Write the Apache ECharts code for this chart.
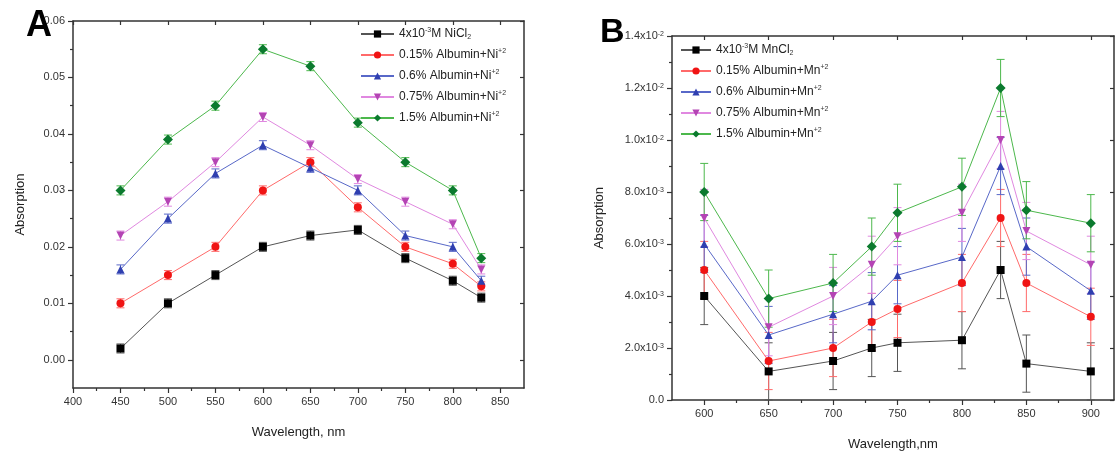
<!DOCTYPE html>
<html>
<head>
<meta charset="utf-8">
<script src="https://cdn.jsdelivr.net/npm/echarts@6/dist/echarts.min.js"></script>
<style>
  html, body { margin: 0; padding: 0; background: #fff; }
  #chart { width: 1115px; height: 456px; }
</style>
</head>
<body>
<div id="chart"></div>
<script>
// panel A: Ni
const xA = [450, 500, 550, 600, 650, 700, 750, 800, 830];
const niCl = [0.002, 0.010, 0.015, 0.020, 0.022, 0.023, 0.018, 0.014, 0.011];
const ni015 = [0.010, 0.015, 0.020, 0.030, 0.035, 0.027, 0.020, 0.017, 0.013];
const ni06 = [0.016, 0.025, 0.033, 0.038, 0.034, 0.030, 0.022, 0.020, 0.014];
const ni075 = [0.022, 0.028, 0.035, 0.043, 0.038, 0.032, 0.028, 0.024, 0.016];
const ni15 = [0.030, 0.039, 0.045, 0.055, 0.052, 0.042, 0.035, 0.030, 0.018];
const errA = [0.0008, 0.0008, 0.0008, 0.0008, 0.0008, 0.0008, 0.0008, 0.0008, 0.0008];

// panel B: Mn
const xB = [600, 650, 700, 730, 750, 800, 830, 850, 900];
const mnCl = [0.0040, 0.0011, 0.0015, 0.0020, 0.0022, 0.0023, 0.0050, 0.0014, 0.0011];
const mn015 = [0.0050, 0.0015, 0.0020, 0.0030, 0.0035, 0.0045, 0.0070, 0.0045, 0.0032];
const mn06 = [0.0060, 0.0025, 0.0033, 0.0038, 0.0048, 0.0055, 0.0090, 0.0059, 0.0042];
const mn075 = [0.0070, 0.0028, 0.0040, 0.0052, 0.0063, 0.0072, 0.0100, 0.0065, 0.0052];
const mn15 = [0.0080, 0.0039, 0.0045, 0.0059, 0.0072, 0.0082, 0.0120, 0.0073, 0.0068];
const errB = [0.0011, 0.0011, 0.0011, 0.0011, 0.0011, 0.0011, 0.0011, 0.0011, 0.0011];

// ticks
const xTicksA = [400, 450, 500, 550, 600, 650, 700, 750, 800, 850];
const xMinorA = [425, 475, 525, 575, 625, 675, 725, 775, 825];
const yTicksA = [0, 0.01, 0.02, 0.03, 0.04, 0.05, 0.06];
const yMinorA = [0.005, 0.015, 0.025, 0.035, 0.045, 0.055];
const xTicksB = [600, 650, 700, 750, 800, 850, 900];
const xMinorB = [625, 675, 725, 775, 825, 875];
const yTicksB = [0, 0.002, 0.004, 0.006, 0.008, 0.010, 0.012, 0.014];
const yMinorB = [0.001, 0.003, 0.005, 0.007, 0.009, 0.011, 0.013];

const namesA = ['4x10-3M NiCl2', '0.15% Albumin+Ni+2', '0.6% Albumin+Ni+2', '0.75% Albumin+Ni+2', '1.5% Albumin+Ni+2'];
const namesB = ['4x10-3M MnCl2', '0.15% Albumin+Mn+2', '0.6% Albumin+Mn+2', '0.75% Albumin+Mn+2', '1.5% Albumin+Mn+2'];
const richNames = {
  '4x10-3M NiCl2': '4x10{sup|-3}M NiCl{sub|2}',
  '0.15% Albumin+Ni+2': '0.15% Albumin+Ni{sup|+2}',
  '0.6% Albumin+Ni+2': '0.6% Albumin+Ni{sup|+2}',
  '0.75% Albumin+Ni+2': '0.75% Albumin+Ni{sup|+2}',
  '1.5% Albumin+Ni+2': '1.5% Albumin+Ni{sup|+2}',
  '4x10-3M MnCl2': '4x10{sup|-3}M MnCl{sub|2}',
  '0.15% Albumin+Mn+2': '0.15% Albumin+Mn{sup|+2}',
  '0.6% Albumin+Mn+2': '0.6% Albumin+Mn{sup|+2}',
  '0.75% Albumin+Mn+2': '0.75% Albumin+Mn{sup|+2}',
  '1.5% Albumin+Mn+2': '1.5% Albumin+Mn{sup|+2}'
};

const markColors = ['#000000', '#f01414', '#2f3fb0', '#b444b4', '#0b7a2e'];
const lineColors = ['#555555', '#ff6a6a', '#5868c8', '#e088e0', '#4cb84c'];
const symbols = ['rect', 'circle', 'triangle', 'triangle', 'diamond'];
const rotations = [0, 0, 0, 180, 0];

const FONT = 'Liberation Sans';
const supRich = {
  sup: { fontSize: 7, verticalAlign: 'top', lineHeight: 8, fontFamily: FONT, color: '#333' },
  sub: { fontSize: 7, verticalAlign: 'bottom', lineHeight: 8, fontFamily: FONT, color: '#333' }
};

function mainAxis(grid, pos, min, max, ticks, fmt, name, gap) {
  return {
    type: 'value', gridIndex: grid, position: pos, min: min, max: max,
    name: name, nameLocation: 'middle', nameGap: gap,
    nameTextStyle: { fontFamily: FONT, fontSize: 13, color: '#222' },
    axisLine: { show: true, onZero: false, lineStyle: { color: '#333', width: 1.5 } },
    axisTick: { show: true, inside: false, length: 5, customValues: ticks, lineStyle: { color: '#333', width: 1.2 } },
    axisLabel: { show: true, customValues: ticks, formatter: fmt, margin: 8,
      fontFamily: FONT, fontSize: 11, color: '#333', rich: supRich },
    splitLine: { show: false }
  };
}
function mirrorAxis(grid, pos, min, max, ticks) {
  return {
    type: 'value', gridIndex: grid, position: pos, min: min, max: max,
    axisLine: { show: true, onZero: false, lineStyle: { color: '#333', width: 1.5 } },
    axisTick: { show: true, inside: true, length: 4, customValues: ticks, lineStyle: { color: '#333', width: 1.2 } },
    axisLabel: { show: false },
    splitLine: { show: false }
  };
}
function minorAxis(grid, pos, min, max, ticks) {
  return {
    type: 'value', gridIndex: grid, position: pos, min: min, max: max,
    axisLine: { show: false, onZero: false },
    axisTick: { show: true, inside: false, length: 3, customValues: ticks, lineStyle: { color: '#333', width: 1.2 } },
    axisLabel: { show: false },
    splitLine: { show: false }
  };
}

const fmtA = v => v.toFixed(2);
const fmtB = v => {
  if (v === 0) return '0.0';
  if (v >= 0.0099) return (v * 100).toFixed(1) + 'x10{sup|-2}';
  return (v * 1000).toFixed(1) + 'x10{sup|-3}';
};
const fmtX = v => String(v);

function lineSeries(name, xs, ys, i, xi, yi) {
  return {
    name: name, type: 'line', xAxisIndex: xi, yAxisIndex: yi,
    data: xs.map((x, k) => [x, ys[k]]),
    symbol: symbols[i], symbolRotate: rotations[i], symbolSize: i === 4 ? 10 : 8,
    itemStyle: { color: markColors[i] },
    lineStyle: { color: lineColors[i], width: 1 },
    z: 3
  };
}
function errSeries(xs, ys, err, i, xi, yi) {
  return {
    type: 'custom', xAxisIndex: xi, yAxisIndex: yi, silent: true, z: 2,
    encode: { x: 0, y: [1, 2] },
    data: xs.map((x, k) => [x, ys[k] - err[k], ys[k] + err[k]]),
    renderItem: (params, api) => {
      const lo = api.coord([api.value(0), api.value(1)]);
      const hi = api.coord([api.value(0), api.value(2)]);
      const w = 4;
      const st = { stroke: lineColors[i], lineWidth: 1 };
      return {
        type: 'group', children: [
          { type: 'line', shape: { x1: lo[0], y1: lo[1], x2: hi[0], y2: hi[1] }, style: st },
          { type: 'line', shape: { x1: lo[0] - w, y1: lo[1], x2: lo[0] + w, y2: lo[1] }, style: st },
          { type: 'line', shape: { x1: hi[0] - w, y1: hi[1], x2: hi[0] + w, y2: hi[1] }, style: st }
        ]
      };
    }
  };
}

const seriesA = [niCl, ni015, ni06, ni075, ni15];
const seriesB = [mnCl, mn015, mn06, mn075, mn15];
const series = [];
seriesA.forEach((ys, i) => {
  series.push(errSeries(xA, ys, errA, i, 0, 0));
  series.push(lineSeries(namesA[i], xA, ys, i, 0, 0));
});
seriesB.forEach((ys, i) => {
  series.push(errSeries(xB, ys, errB, i, 3, 3));
  series.push(lineSeries(namesB[i], xB, ys, i, 3, 3));
});

function legendOf(names, left, top, w) {
  return {
    data: names, orient: 'vertical', left: left, top: top, padding: 0,
    itemWidth: w, itemHeight: 9, itemGap: 7, selectedMode: false,
    formatter: n => richNames[n],
    textStyle: { fontFamily: FONT, fontSize: 12, color: '#222', lineHeight: 14, rich: supRich }
  };
}

const chart = echarts.init(document.getElementById('chart'), null, { renderer: 'canvas' });
chart.setOption({
  animation: false,
  backgroundColor: '#ffffff',
  grid: [
    { left: 73, top: 21, width: 451, height: 367 },
    { left: 672, top: 36, width: 442, height: 367 }
  ],
  xAxis: [
    mainAxis(0, 'bottom', 400, 875, xTicksA, fmtX, 'Wavelength, nm', 38),
    mirrorAxis(0, 'top', 400, 875, xTicksA),
    minorAxis(0, 'bottom', 400, 875, xMinorA),
    mainAxis(1, 'bottom', 575, 918, xTicksB, fmtX, 'Wavelength,nm', 38),
    mirrorAxis(1, 'top', 575, 918, xTicksB),
    minorAxis(1, 'bottom', 575, 918, xMinorB)
  ],
  yAxis: [
    mainAxis(0, 'left', -0.005, 0.06, yTicksA, fmtA, 'Absorption', 46),
    mirrorAxis(0, 'right', -0.005, 0.06, yTicksA),
    minorAxis(0, 'left', -0.005, 0.06, yMinorA),
    mainAxis(1, 'left', 0, 0.014, yTicksB, fmtB, 'Absorption', 66),
    mirrorAxis(1, 'right', 0, 0.014, yTicksB),
    minorAxis(1, 'left', 0, 0.014, yMinorB)
  ],
  legend: [legendOf(namesA, 360, 27, 33), legendOf(namesB, 680, 43, 30)],
  graphic: [
    { type: 'text', left: 26, top: 8, z: 100,
      style: { text: 'A', font: 'bold 36px "Liberation Sans"', fill: '#000' } },
    { type: 'text', left: 600, top: 16, z: 100,
      style: { text: 'B', font: 'bold 34px "Liberation Sans"', fill: '#000' } }
  ],
  series: series
});
</script>
</body>
</html>
